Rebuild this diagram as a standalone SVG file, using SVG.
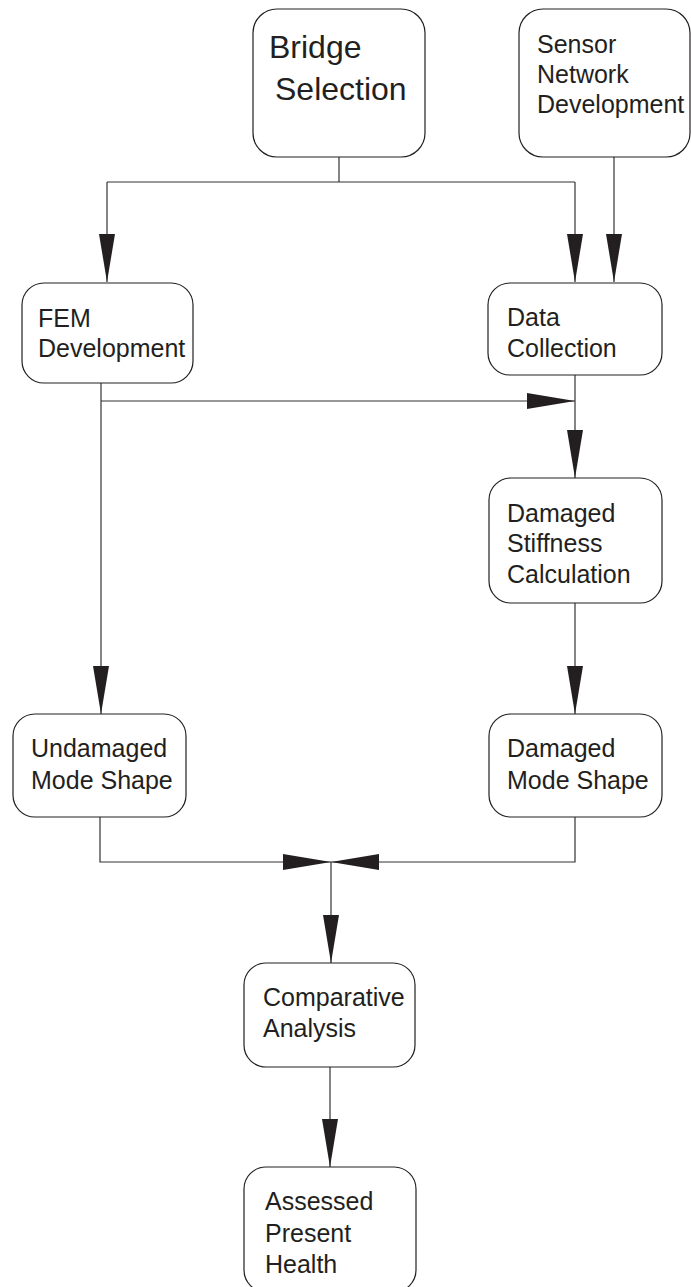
<svg xmlns="http://www.w3.org/2000/svg" width="691" height="1287" viewBox="0 0 691 1287">
<style>
.box{fill:#fff;stroke:#231f20;stroke-width:1.2}
.t{font-family:"Liberation Sans",Arial,sans-serif;font-size:25px;fill:#231f20}
.big{font-size:32px}
.c{fill:none;stroke:#333;stroke-width:1.2}
</style>
<defs>
<marker id="ah" viewBox="0 0 48 16" refX="48" refY="8" markerWidth="48" markerHeight="16" markerUnits="userSpaceOnUse" orient="auto">
<path d="M0,0 L48,8 L0,16 z" fill="#231f20"/>
</marker>
</defs>
<rect width="691" height="1287" fill="#fff"/>
<g id="connectors">
<path class="c" d="M339,157 V182"/>
<path class="c" d="M107,182 H575"/>
<path class="c" d="M107,182 V282" marker-end="url(#ah)"/>
<path class="c" d="M575,182 V282" marker-end="url(#ah)"/>
<path class="c" d="M614,157 V282" marker-end="url(#ah)"/>
<path class="c" d="M101,383 V714" marker-end="url(#ah)"/>
<path class="c" d="M101,401 H575" marker-end="url(#ah)"/>
<path class="c" d="M575,375 V478" marker-end="url(#ah)"/>
<path class="c" d="M575,603 V714" marker-end="url(#ah)"/>
<path class="c" d="M100,817 V862 H331" marker-end="url(#ah)"/>
<path class="c" d="M575,817 V862 H331" marker-end="url(#ah)"/>
<path class="c" d="M331,862 V963" marker-end="url(#ah)"/>
<path class="c" d="M330,1067 V1167" marker-end="url(#ah)"/>
</g>
<g id="bridge-selection">
<rect class="box" x="253" y="9" width="172" height="148" rx="24"/>
<text class="t big" x="269" y="58">Bridge</text>
<text class="t big" x="275" y="100">Selection</text>
</g>
<g id="sensor-network">
<rect class="box" x="519" y="9" width="171" height="148" rx="24"/>
<text class="t" x="537" y="53">Sensor</text>
<text class="t" x="537" y="83">Network</text>
<text class="t" x="537" y="113">Development</text>
</g>
<g id="fem-development">
<rect class="box" x="22" y="283" width="171" height="100" rx="22"/>
<text class="t" x="38" y="327">FEM</text>
<text class="t" x="38" y="357">Development</text>
</g>
<g id="data-collection">
<rect class="box" x="488" y="283" width="174" height="92" rx="22"/>
<text class="t" x="507" y="326">Data</text>
<text class="t" x="507" y="357">Collection</text>
</g>
<g id="damaged-stiffness">
<rect class="box" x="489" y="478" width="173" height="125" rx="22"/>
<text class="t" x="507" y="522">Damaged</text>
<text class="t" x="507" y="552">Stiffness</text>
<text class="t" x="507" y="583">Calculation</text>
</g>
<g id="undamaged-mode-shape">
<rect class="box" x="13" y="714" width="173" height="103" rx="22"/>
<text class="t" x="31" y="757">Undamaged</text>
<text class="t" x="31" y="789">Mode Shape</text>
</g>
<g id="damaged-mode-shape">
<rect class="box" x="489" y="714" width="173" height="103" rx="22"/>
<text class="t" x="507" y="757">Damaged</text>
<text class="t" x="507" y="789">Mode Shape</text>
</g>
<g id="comparative-analysis">
<rect class="box" x="244" y="963" width="171" height="104" rx="22"/>
<text class="t" x="263" y="1006">Comparative</text>
<text class="t" x="263" y="1037">Analysis</text>
</g>
<g id="assessed-present-health">
<rect class="box" x="244" y="1167" width="172" height="125" rx="22"/>
<text class="t" x="265" y="1210">Assessed</text>
<text class="t" x="265" y="1242">Present</text>
<text class="t" x="265" y="1273">Health</text>
</g>
</svg>
